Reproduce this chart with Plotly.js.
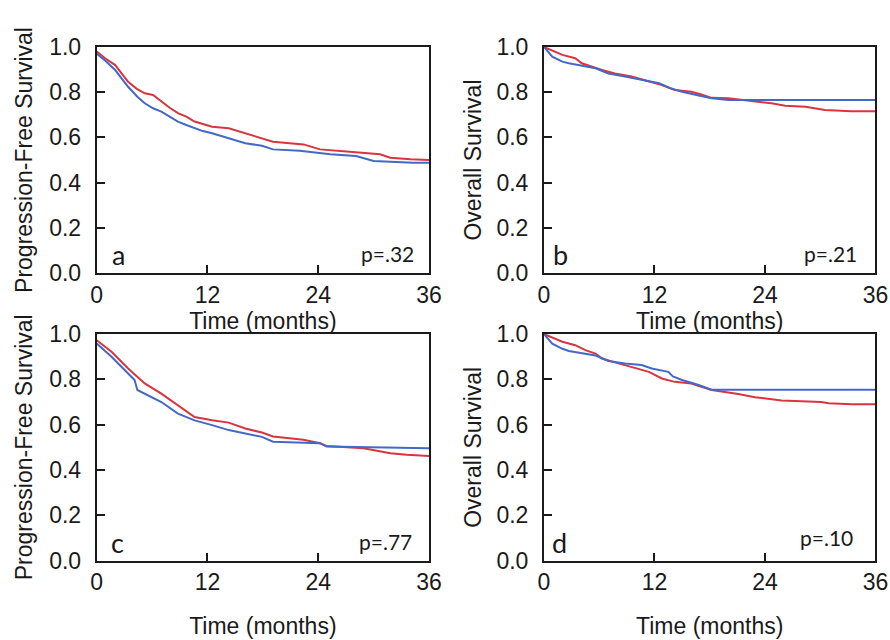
<!DOCTYPE html>
<html>
<head>
<meta charset="utf-8">
<script src="https://cdn.plot.ly/plotly-3.0.1.min.js"></script>
<style>html,body{margin:0;padding:0;background:#fff;}#chart{width:890px;height:640px;}</style>
</head>
<body>
<div id="chart"></div>
<script>
// ---- Data ----
var monthTicks = [0, 12, 24, 36];
var survTicks = [0, 0.2, 0.4, 0.6, 0.8, 1.0];

// Panel a: Progression-free survival
var aRedT = [0, 0.9, 2.0, 3.4, 4.3, 5.2, 6.1, 7.0, 7.9, 8.8, 9.7, 10.6, 11.5, 12.5, 14.3, 16.1, 17.9, 19.1, 22.4, 24.2, 27.4, 30.7, 31.8, 34.0, 36];
var aRedS = [0.98, 0.95, 0.92, 0.846, 0.816, 0.795, 0.788, 0.758, 0.731, 0.707, 0.692, 0.67, 0.658, 0.647, 0.64, 0.618, 0.599, 0.581, 0.569, 0.547, 0.537, 0.525, 0.51, 0.503, 0.50];
var aBlueT = [0, 0.9, 2.0, 3.4, 4.4, 5.2, 6.1, 7.0, 7.9, 8.8, 9.7, 10.6, 11.5, 12.5, 14.3, 16.1, 17.9, 19.1, 22.0, 24.2, 25.3, 28.1, 30.0, 34.3, 36];
var aBlueS = [0.97, 0.94, 0.898, 0.824, 0.78, 0.751, 0.729, 0.714, 0.692, 0.67, 0.655, 0.64, 0.628, 0.618, 0.596, 0.574, 0.563, 0.547, 0.541, 0.532, 0.525, 0.518, 0.496, 0.488, 0.488];

// Panel b: Overall survival
var bRedT = [0, 2.0, 3.4, 4.1, 6.3, 7.7, 9.5, 11.4, 12.8, 14.2, 16.0, 17.1, 18.2, 20.0, 21.8, 23.6, 24.7, 26.2, 28.4, 30.5, 33.4, 36];
var bRedS = [1.0, 0.965, 0.95, 0.928, 0.898, 0.883, 0.869, 0.846, 0.832, 0.81, 0.802, 0.79, 0.775, 0.773, 0.765, 0.758, 0.751, 0.74, 0.736, 0.721, 0.716, 0.716];
var bBlueT = [0, 0.9, 2.0, 2.7, 5.6, 7.0, 8.8, 10.6, 12.5, 13.7, 15.0, 16.8, 18.2, 20.0, 36];
var bBlueS = [1.0, 0.957, 0.935, 0.928, 0.906, 0.883, 0.869, 0.854, 0.84, 0.818, 0.802, 0.785, 0.773, 0.766, 0.766];

// Panel c: Progression-free survival
var cRedT = [0, 1.6, 3.4, 5.2, 7.0, 8.8, 10.6, 12.5, 14.3, 16.1, 17.9, 19.1, 22.4, 24.2, 24.9, 28.9, 31.1, 31.8, 33.6, 36];
var cRedS = [0.973, 0.922, 0.848, 0.782, 0.737, 0.686, 0.634, 0.619, 0.609, 0.583, 0.565, 0.548, 0.533, 0.518, 0.506, 0.496, 0.481, 0.474, 0.467, 0.462];
var cBlueT = [0, 1.6, 3.4, 4.1, 4.4, 5.2, 7.0, 8.8, 10.6, 12.5, 14.3, 16.1, 17.9, 19.1, 24.2, 24.9, 34.3, 36];
var cBlueS = [0.958, 0.90, 0.826, 0.797, 0.753, 0.737, 0.70, 0.649, 0.619, 0.598, 0.576, 0.561, 0.546, 0.525, 0.518, 0.503, 0.496, 0.496];

// Panel d: Overall survival
var dRedT = [0, 2.0, 3.4, 4.5, 5.6, 6.3, 7.7, 9.5, 11.4, 12.8, 14.2, 16.0, 17.1, 18.2, 21.1, 22.9, 25.8, 30.1, 30.9, 33.4, 36];
var dRedS = [1.0, 0.966, 0.951, 0.929, 0.914, 0.892, 0.875, 0.855, 0.833, 0.804, 0.789, 0.782, 0.767, 0.753, 0.735, 0.721, 0.707, 0.70, 0.695, 0.69, 0.69];
var dBlueT = [0, 0.9, 2.0, 2.7, 5.6, 7.0, 8.8, 10.6, 11.7, 13.5, 14.0, 15.0, 16.8, 18.2, 36];
var dBlueS = [1.0, 0.958, 0.935, 0.925, 0.905, 0.881, 0.87, 0.863, 0.848, 0.833, 0.813, 0.797, 0.775, 0.754, 0.754];

var panelLetters = ['a', 'b', 'c', 'd'];
var pValues = ['p=.32', 'p=.21', 'p=.77', 'p=.10'];
var yTitles = ['Progression-Free Survival', 'Overall Survival', 'Progression-Free Survival', 'Overall Survival'];
var xTitle = 'Time (months)';

// ---- Styling ----
var RED = '#d8353f', BLUE = '#4468c6';
var axisFont = {family: 'Liberation Sans, Arial, sans-serif', size: 23, color: '#1a1a1a'};
function line(t, s, color, ax) {
  return {x: t, y: s, type: 'scatter', mode: 'lines', line: {color: color, width: 2, shape: 'linear'},
          xaxis: 'x' + ax, yaxis: 'y' + ax, showlegend: false, hoverinfo: 'skip'};
}
var data = [
  line(aRedT, aRedS, RED, ''), line(aBlueT, aBlueS, BLUE, ''),
  line(bRedT, bRedS, RED, '2'), line(bBlueT, bBlueS, BLUE, '2'),
  line(cRedT, cRedS, RED, '3'), line(cBlueT, cBlueS, BLUE, '3'),
  line(dRedT, dRedS, RED, '4'), line(dBlueT, dBlueS, BLUE, '4')
];

var xDom = [[0.1087, 0.482], [0.6112, 0.9837], [0.1087, 0.482], [0.6112, 0.9837]];
var yDom = [[0.5734, 0.9266], [0.5734, 0.9266], [0.1242, 0.478], [0.1242, 0.478]];
var xStand = [1, 1, 24, 24];
var yStand = [10, 8, 10, 8];

var layout = {
  width: 890, height: 640,
  margin: {l: 0, r: 0, t: 0, b: 0},
  paper_bgcolor: '#fff', plot_bgcolor: '#fff',
  font: axisFont,
  annotations: []
};
for (var i = 0; i < 4; i++) {
  var sfx = i === 0 ? '' : String(i + 1);
  layout['xaxis' + sfx] = {
    domain: xDom[i], range: [0, 36], anchor: 'y' + sfx,
    tickmode: 'array', tickvals: monthTicks, ticktext: monthTicks.map(String),
    ticks: 'inside', ticklen: 8, tickwidth: 2, tickcolor: '#1a1a1a',
    showline: true, mirror: true, linecolor: '#1a1a1a', linewidth: 2,
    showgrid: false, zeroline: false, tickfont: axisFont, ticklabelstandoff: 0,
    title: {text: xTitle, font: axisFont, standoff: xStand[i]}, automargin: false, fixedrange: true
  };
  layout['yaxis' + sfx] = {
    domain: yDom[i], range: [0, 1], anchor: 'x' + sfx,
    tickmode: 'array', tickvals: survTicks, ticktext: survTicks.map(function (v) { return v.toFixed(1); }),
    ticks: 'inside', ticklen: 8, tickwidth: 2, tickcolor: '#1a1a1a',
    showline: true, mirror: true, linecolor: '#1a1a1a', linewidth: 2,
    showgrid: false, zeroline: false, tickfont: axisFont, ticklabelstandoff: 9,
    title: {text: yTitles[i], font: axisFont, standoff: yStand[i]}, automargin: false, fixedrange: true
  };
  var letterX = [1.4, 0.8, 1.3, 0.7][i];
  var pX = [34.6, 34.2, 34.4, 33.8][i];
  layout.annotations.push({
    xref: 'x' + sfx, yref: 'y' + sfx, x: letterX, y: 0.08, xanchor: 'left', yanchor: 'middle',
    text: panelLetters[i], showarrow: false, font: {family: 'Lato, sans-serif', size: 27, color: '#1a1a1a'}
  });
  layout.annotations.push({
    xref: 'x' + sfx, yref: 'y' + sfx, x: pX, y: [0.085, 0.085, 0.085, 0.1][i], xanchor: 'right', yanchor: 'middle',
    text: pValues[i], showarrow: false, font: {family: 'Lato, sans-serif', size: 21, color: '#1a1a1a'}
  });
}
Plotly.newPlot('chart', data, layout, {staticPlot: true, displayModeBar: false});
</script>
</body>
</html>
